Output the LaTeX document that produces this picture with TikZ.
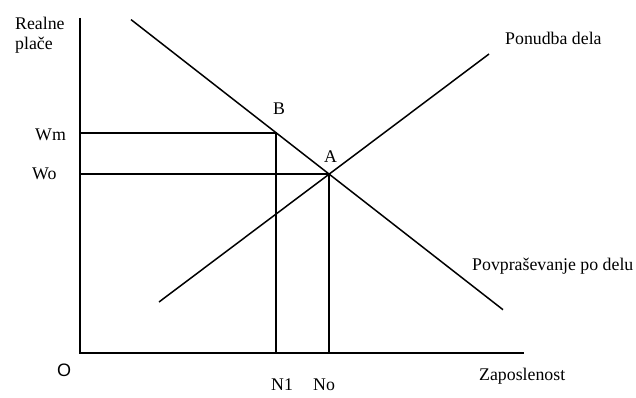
\documentclass[tikz,border=0pt]{standalone}
\usepackage{fontspec}
\setmainfont{Liberation Serif}
\newfontfamily\arialfont{Liberation Sans}
\begin{document}
\begin{tikzpicture}[x=1pt,y=-1pt,
  lbl/.style={inner sep=0pt,anchor=base west,font=\fontsize{17.8pt}{20pt}\selectfont},
  ln/.style={line width=1.5pt,black}]
\useasboundingbox (0,0) rectangle (636,398);
% coordinates
\coordinate (ytop) at (80,18);
\coordinate (O) at (80,353);
\coordinate (xend) at (524,353);
\coordinate (dS) at (131,19.6);
\coordinate (dE) at (503,309.7);
\coordinate (sS) at (159,302);
\coordinate (sE) at (489,54);
\coordinate (B) at (276,133);
\coordinate (A) at (329,174);
\coordinate (Wm) at (80,133);
\coordinate (Wo) at (80,174);
\coordinate (N1) at (276,353);
\coordinate (No) at (329,353);
% axes
\draw[ln] (ytop) -- (O) -- (xend);
% curves
\draw[ln] (dS) -- (dE);
\draw[ln] (sS) -- (sE);
% guide lines
\draw[ln] (Wm) -- (B) -- (N1);
\draw[ln] (Wo) -- (A) -- (No);
% labels
\node[lbl] (tR) at (15,30) {Realne};
\node[lbl] (tp) at (15,50) {plače};
\node[lbl] (tWm) at (35,141) {Wm};
\node[lbl] (tWo) at (32,179) {Wo};
\node[lbl] (tB) at (273,115) {B};
\node[lbl] (tA) at (324,162) {A};
\node[lbl] (tPon) at (505,45) {Ponudba dela};
\node[lbl] (tPov) at (472,270) {Povpraševanje po delu};
\node[lbl] (tZ) at (479,380) {Zaposlenost};
\node[lbl] (tN1) at (271,390) {N1};
\node[lbl] (tNo) at (313,390) {No};
\node[lbl,font=\arialfont\fontsize{18pt}{20pt}\selectfont] (tO) at (57,376) {O};
\end{tikzpicture}
\end{document}
